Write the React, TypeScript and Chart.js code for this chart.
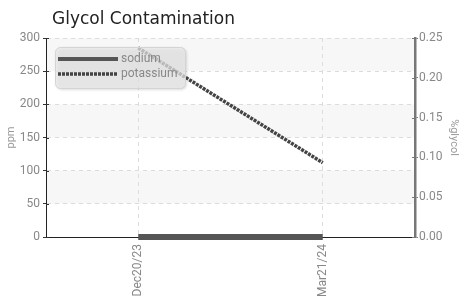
import { useEffect, useRef } from "react";
import { Chart, registerables } from "chart.js";
Chart.register(...registerables);

const chartTitle = "Glycol Contamination";
const categories = ["Dec20/23", "Mar21/24"];
const seriesNames = ["sodium", "potassium"];
const sodiumValues = [0, 0];
const potassiumValues = [285, 112];
const leftAxisTitle = "ppm";
const rightAxisTitle = "%glycol";
const leftAxisRange = [0, 300, 50];
const rightAxisRange = [0, 0.25, 0.05];
const shadedBands = [
  [250, 300],
  [150, 200],
  [50, 100],
];

const TICK_FONT = { family: "Roboto, 'Liberation Sans', sans-serif", size: 12 };

const decorPlugin = {
  id: "decor",
  beforeDraw(chart: any) {
    const { ctx, chartArea, scales } = chart;
    const y = scales.y;
    ctx.save();
    ctx.fillStyle = "#f7f7f7";
    for (const [lo, hi] of shadedBands) {
      const top = y.getPixelForValue(hi);
      const bot = y.getPixelForValue(lo);
      ctx.fillRect(chartArea.left, top, chartArea.right - chartArea.left, bot - top);
    }
    ctx.restore();
  },
  afterDraw(chart: any) {
    const { ctx, chartArea, scales } = chart;
    ctx.save();
    // inner tick stubs
    ctx.lineWidth = 1;
    ctx.strokeStyle = "#333";
    for (const t of scales.y.ticks) {
      const py = Math.round(scales.y.getPixelForValue(t.value)) + 0.5;
      ctx.beginPath();
      ctx.moveTo(chartArea.left, py);
      ctx.lineTo(chartArea.left + 3, py);
      ctx.stroke();
    }
    ctx.strokeStyle = "#777";
    for (const t of scales.y1.ticks) {
      const py = Math.round(scales.y1.getPixelForValue(t.value)) + 0.5;
      ctx.beginPath();
      ctx.moveTo(chartArea.right - 3, py);
      ctx.lineTo(chartArea.right, py);
      ctx.stroke();
    }

    // title
    ctx.fillStyle = "#222";
    ctx.font = "17px 'DejaVu Sans', sans-serif";
    ctx.textBaseline = "alphabetic";
    ctx.textAlign = "left";
    ctx.fillText(chartTitle, 52, 24);

    // legend box
    ctx.save();
    ctx.shadowColor = "rgba(0,0,0,0.25)";
    ctx.shadowBlur = 3;
    ctx.shadowOffsetX = 1;
    ctx.shadowOffsetY = 1;
    ctx.beginPath();
    (ctx as any).roundRect(55.5, 47.5, 130, 41, 5);
    ctx.fillStyle = "rgba(235,235,235,0.72)";
    ctx.fill();
    ctx.restore();
    ctx.beginPath();
    (ctx as any).roundRect(55.5, 47.5, 130, 41, 5);
    ctx.strokeStyle = "#d4d4d4";
    ctx.lineWidth = 1;
    ctx.stroke();

    const ds = chart.data.datasets;
    const rows = [59, 74];
    ds.forEach((d: any, i: number) => {
      const yy = rows[i];
      ctx.beginPath();
      ctx.setLineDash(d.borderDash || []);
      ctx.strokeStyle = d.borderColor;
      ctx.lineWidth = i === 0 ? 4 : 3.5;
      ctx.moveTo(58, yy);
      ctx.lineTo(118, yy);
      ctx.stroke();
      ctx.setLineDash([]);
      ctx.fillStyle = "#888";
      ctx.font = "12px Roboto, 'Liberation Sans', sans-serif";
      ctx.textBaseline = "middle";
      ctx.fillText(d.label, 121, yy);
    });
    ctx.restore();
  },
};

export default function App() {
  const ref = useRef<HTMLCanvasElement>(null);
  useEffect(() => {
    if (!ref.current) return;
    const chart = new Chart(ref.current, {
      type: "line",
      data: {
        labels: categories,
        datasets: [
          {
            label: seriesNames[0],
            data: sodiumValues,
            borderColor: "#555",
            borderWidth: 6,
            pointRadius: 0,
            clip: false,
            yAxisID: "y",
          },
          {
            label: seriesNames[1],
            data: potassiumValues,
            borderColor: "#444",
            borderWidth: 3.5,
            borderDash: [3, 1],
            pointRadius: 0,
            yAxisID: "y",
          },
        ],
      },
      options: {
        responsive: false,
        animation: false,
        layout: { padding: { top: 38, left: 0, right: 0, bottom: 0 } },
        plugins: {
          legend: { display: false },
          title: { display: false },
          tooltip: { enabled: false },
        },
        scales: {
          x: {
            type: "category",
            offset: true,
            afterFit: (s: any) => {
              s.height = 66;
            },
            grid: { color: "#dcdcdc", drawTicks: false, offset: false },
            border: { color: "#222", width: 1, dash: [4, 4] },
            ticks: {
              color: "#888",
              font: TICK_FONT,
              maxRotation: 90,
              minRotation: 90,
              padding: 7,
            },
          },
          y: {
            position: "left",
            min: leftAxisRange[0],
            max: leftAxisRange[1],
            afterFit: (s: any) => {
              s.width = 46;
            },
            grid: { color: "#dcdcdc", tickColor: "#333", tickLength: 3 },
            border: { color: "#222", width: 1, dash: [4, 4] },
            ticks: {
              stepSize: leftAxisRange[2],
              color: "#888",
              font: TICK_FONT,
              padding: 3,
            },
            title: {
              display: true,
              text: leftAxisTitle,
              color: "#999",
              font: { family: "Roboto, sans-serif", size: 11 },
              padding: { top: 5, bottom: 0 },
            },
          },
          y1: {
            position: "right",
            min: rightAxisRange[0],
            max: rightAxisRange[1],
            afterFit: (s: any) => {
              s.width = 57;
            },
            grid: { drawOnChartArea: false, tickColor: "#777", tickLength: 3 },
            border: { color: "#777", width: 2.5 },
            ticks: {
              stepSize: rightAxisRange[2],
              color: "#888",
              font: TICK_FONT,
              padding: 1,
              callback: (v: any) => Number(v).toFixed(2),
            },
            title: {
              display: true,
              text: rightAxisTitle,
              color: "#999",
              font: { family: "Roboto, sans-serif", size: 11 },
              padding: { top: 12, bottom: 0 },
            },
          },
        },
      },
      plugins: [decorPlugin],
    } as any);
    return () => chart.destroy();
  }, []);
  return (
    <canvas
      ref={ref}
      width={472}
      height={303}
      style={{ position: "fixed", left: 0, top: 0, display: "block" }}
    />
  );
}
